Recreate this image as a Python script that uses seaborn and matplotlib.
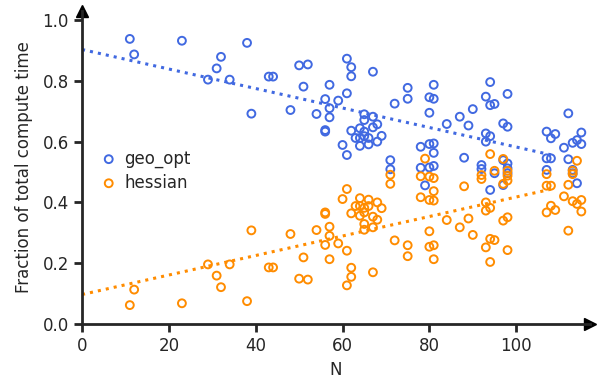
import numpy as np
import pandas as pd
import matplotlib
matplotlib.use("Agg")
import matplotlib.pyplot as plt
import seaborn as sns

# system size N for every run
N = [11, 12, 23, 29, 31, 32, 34, 38, 39,
     43, 44, 48, 50, 51, 52, 54,
     56, 56, 56, 57, 57, 57, 59, 60,
     61, 61, 61, 62, 62, 62, 63,
     64, 64, 64, 65, 65, 65, 65,
     66, 66, 67, 67, 67, 68, 68, 69,
     71, 71, 72, 75, 75,
     78, 78, 79, 80, 80, 80, 80,
     81, 81, 81, 81, 81,
     84, 87, 88, 89, 90,
     92, 92, 93, 93, 93, 94, 94, 94, 94, 95, 95,
     97, 97, 97, 98, 98, 98, 98, 98,
     107, 107, 107, 108, 108, 109, 111, 112, 112, 113, 113, 113, 114, 114, 115, 115]

# fraction of time spent in geometry optimisation
geo_opt = [0.938, 0.887, 0.932, 0.804, 0.841, 0.879, 0.804, 0.925, 0.692,
           0.814, 0.814, 0.704, 0.851, 0.781, 0.854, 0.691,
           0.740, 0.638, 0.633, 0.787, 0.710, 0.680, 0.735, 0.589,
           0.873, 0.759, 0.556, 0.845, 0.815, 0.636, 0.612,
           0.644, 0.612, 0.586, 0.690, 0.671, 0.633, 0.618,
           0.612, 0.591, 0.830, 0.682, 0.647, 0.657, 0.600, 0.619,
           0.539, 0.509, 0.725, 0.777, 0.741,
           0.583, 0.514, 0.456, 0.746, 0.695, 0.592, 0.515,
           0.787, 0.741, 0.594, 0.563, 0.520,
           0.658, 0.682, 0.547, 0.653, 0.707,
           0.523, 0.510, 0.748, 0.627, 0.600, 0.796, 0.720, 0.618, 0.441, 0.724, 0.496,
           0.660, 0.539, 0.457, 0.757, 0.649, 0.528, 0.512, 0.496,
           0.633, 0.545, 0.507, 0.611, 0.545, 0.625, 0.580, 0.693, 0.542, 0.596, 0.507, 0.496, 0.605, 0.463, 0.630, 0.592]

# fraction of time spent in the hessian
hessian = [0.062, 0.113, 0.068, 0.196, 0.159, 0.121, 0.196, 0.075, 0.308,
           0.186, 0.186, 0.296, 0.149, 0.219, 0.146, 0.309,
           0.260, 0.362, 0.367, 0.213, 0.290, 0.320, 0.265, 0.411,
           0.127, 0.241, 0.444, 0.155, 0.185, 0.364, 0.388,
           0.356, 0.388, 0.414, 0.310, 0.329, 0.367, 0.382,
           0.388, 0.409, 0.170, 0.318, 0.353, 0.343, 0.400, 0.381,
           0.461, 0.491, 0.275, 0.223, 0.259,
           0.417, 0.486, 0.544, 0.254, 0.305, 0.408, 0.485,
           0.213, 0.259, 0.406, 0.437, 0.480,
           0.342, 0.318, 0.453, 0.347, 0.293,
           0.477, 0.490, 0.252, 0.373, 0.400, 0.204, 0.280, 0.382, 0.559, 0.276, 0.504,
           0.340, 0.461, 0.543, 0.243, 0.351, 0.472, 0.488, 0.504,
           0.367, 0.455, 0.493, 0.389, 0.455, 0.375, 0.420, 0.307, 0.458, 0.404, 0.493, 0.504, 0.395, 0.537, 0.370, 0.408]

df = pd.DataFrame({"N": N * 2,
                   "frac": geo_opt + hessian,
                   "kind": ["geo_opt"] * len(N) + ["hessian"] * len(N)})

colors = {"geo_opt": "royalblue", "hessian": "darkorange"}

sns.set_style("ticks")
plt.rcParams["font.family"] = ["DejaVu Sans"]
plt.rcParams["font.size"] = 12

fig, ax = plt.subplots(figsize=(5.99, 3.78), dpi=100)
fig.subplots_adjust(left=0.137, right=0.985, bottom=0.143, top=0.971)

for kind in ["geo_opt", "hessian"]:
    sub = df[df["kind"] == kind]
    ax.scatter(sub["N"], sub["frac"], s=32, facecolors="none",
               edgecolors=colors[kind], linewidths=1.4, label=kind, zorder=3)

# fitted trend lines, drawn from 0
ax.set_xlim(0, 108)
for kind in ["geo_opt", "hessian"]:
    sub = df[df["kind"] == kind]
    sns.regplot(x="N", y="frac", data=sub, scatter=False, ci=None, truncate=False,
                line_kws={"color": colors[kind], "ls": ":", "lw": 2.2}, ax=ax)

ax.set_xlim(0, 117)
ax.set_ylim(0, 1.03)
ax.set_xticks([0, 20, 40, 60, 80, 100])
ax.set_yticks([0.0, 0.2, 0.4, 0.6, 0.8, 1.0])
ax.set_xlabel("N", fontsize=12)
ax.set_ylabel("Fraction of total compute time", fontsize=12, labelpad=7)
ax.tick_params(labelsize=12, width=2, length=6)

sns.despine(ax=ax)
for sp in ["left", "bottom"]:
    ax.spines[sp].set_linewidth(2)

# arrow heads at the ends of the axes
ax.plot(1, 0, ">k", ms=8, transform=ax.get_yaxis_transform(), clip_on=False)
ax.plot(0, 1, "^k", ms=8, transform=ax.get_xaxis_transform(), clip_on=False)

ax.legend(loc="center left", bbox_to_anchor=(0, 0.49), frameon=False, fontsize=12,
          handlelength=1.0, handletextpad=0.45, labelspacing=0.35, borderaxespad=0.7)

plt.savefig("out.png", dpi=100)
